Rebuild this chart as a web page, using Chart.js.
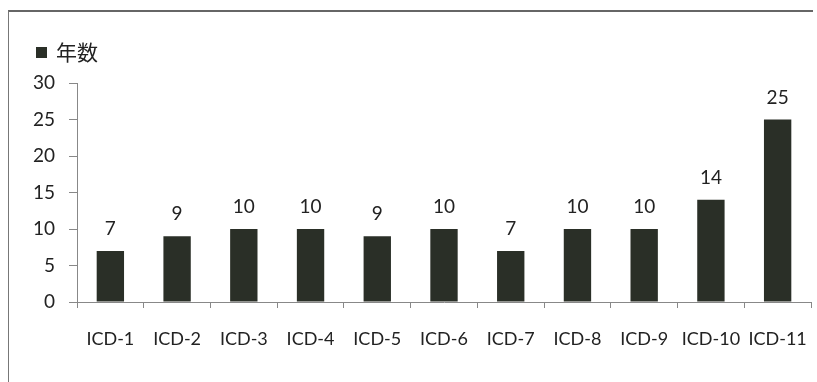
<!DOCTYPE html>
<html>
<head>
<meta charset="utf-8">
<script src="https://cdn.jsdelivr.net/npm/chart.js@4"></script>
<style>
    html, body { margin: 0; padding: 0; background: #fff; }
    #wrap { position: relative; width: 817px; height: 382px; overflow: hidden; }
    #frame { position: absolute; left: 8px; top: 10px; width: 805px; height: 400px;
             border-left: 1px solid #777; border-top: 2px solid #666; box-sizing: border-box; }
    canvas { position: absolute; left: 0; top: 0; }
</style>
</head>
<body>
<div id="wrap">
    <div id="frame"></div>
    <canvas id="chart" width="817" height="382"></canvas>
</div>
<script>
(function () {
    const categories = ['ICD-1', 'ICD-2', 'ICD-3', 'ICD-4', 'ICD-5', 'ICD-6', 'ICD-7', 'ICD-8', 'ICD-9', 'ICD-10', 'ICD-11'];
    const years = [7, 9, 10, 10, 9, 10, 7, 10, 10, 14, 25];
    const seriesName = '年数';

    const fontFamily = "Lato, 'Noto Sans CJK JP', sans-serif";
    const textColor = '#222';
    const axisColor = '#888';
    const barColor = '#2a2f27';

    // value labels above each bar, legend in the top-left corner
    const annotate = {
        id: 'annotate',
        afterDatasetsDraw: function (chart) {
            const ctx = chart.ctx;
            const meta = chart.getDatasetMeta(0);
            ctx.save();
            ctx.font = '19px ' + fontFamily;
            ctx.fillStyle = textColor;
            ctx.textAlign = 'center';
            ctx.textBaseline = 'alphabetic';
            meta.data.forEach(function (bar, i) {
                ctx.fillText(String(years[i]), bar.x, bar.y - 16);
            });

            ctx.fillStyle = barColor;
            ctx.fillRect(36, 47, 11, 11);
            ctx.fillStyle = textColor;
            ctx.font = '21px ' + fontFamily;
            ctx.textAlign = 'left';
            ctx.textBaseline = 'middle';
            ctx.fillText(seriesName, 56, 53);
            ctx.restore();
        }
    };

    new Chart(document.getElementById('chart').getContext('2d'), {
        type: 'bar',
        data: {
            labels: categories,
            datasets: [
                {
                    label: seriesName,
                    data: years,
                    backgroundColor: barColor,
                    borderWidth: 0,
                    categoryPercentage: 1,
                    barPercentage: 0.41
                }
            ]
        },
        options: {
            responsive: false,
            animation: false,
            layout: {
                padding: { left: 28, right: 6, top: 83, bottom: 18 }
            },
            plugins: {
                legend: { display: false },
                tooltip: { enabled: false }
            },
            scales: {
                x: {
                    grid: {
                        display: true,
                        drawOnChartArea: false,
                        drawTicks: true,
                        tickLength: 6,
                        color: axisColor
                    },
                    border: { display: true, color: axisColor, width: 1 },
                    ticks: {
                        color: textColor,
                        font: { family: fontFamily, size: 18 },
                        padding: 20,
                        maxRotation: 0,
                        autoSkip: false
                    },
                    afterFit: function (scale) {
                        scale.height = 62;
                        scale.paddingLeft = 0;
                        scale.paddingRight = 0;
                    }
                },
                y: {
                    min: 0,
                    max: 30,
                    grid: {
                        display: true,
                        drawOnChartArea: false,
                        drawTicks: true,
                        tickLength: 8,
                        color: axisColor
                    },
                    border: { display: true, color: axisColor, width: 1 },
                    ticks: {
                        stepSize: 5,
                        color: textColor,
                        font: { family: fontFamily, size: 19 },
                        padding: 14
                    },
                    afterFit: function (scale) { scale.width = 49; }
                }
            }
        },
        plugins: [annotate]
    });
})();
</script>
</body>
</html>
